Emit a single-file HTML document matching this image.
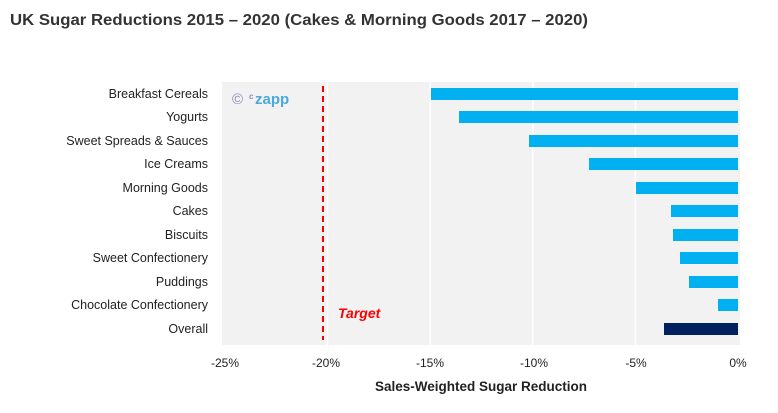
<!DOCTYPE html>
<html><head><meta charset="utf-8"><style>
html,body{margin:0;padding:0;background:#fff;}
svg{display:block;font-family:"Liberation Sans",sans-serif;}
</style></head><body>
<svg width="778" height="413" viewBox="0 0 778 413">
<text x="10" y="25" font-size="16" font-weight="bold" fill="#333" textLength="578" lengthAdjust="spacingAndGlyphs">UK Sugar Reductions 2015 – 2020 (Cakes &amp; Morning Goods 2017 – 2020)</text>
<rect x="222" y="82" width="518" height="263" fill="#f2f2f2"/>
<g stroke="#fff" stroke-width="1.5">
<line x1="327.6" y1="82" x2="327.6" y2="345"/>
<line x1="430.2" y1="82" x2="430.2" y2="345"/>
<line x1="532.8" y1="82" x2="532.8" y2="345"/>
<line x1="635.4" y1="82" x2="635.4" y2="345"/>
</g>
<text x="232" y="104" font-size="15" fill="#8a8ac0">©</text>
<text x="249" y="104" font-size="8" font-weight="bold" fill="#8a8ac0" dy="-5">c</text>
<text x="255" y="104" font-size="15" font-weight="bold" fill="#4aa8e0">zapp</text>
<line x1="323" y1="86" x2="323" y2="340" stroke="#ff0000" stroke-width="2" stroke-dasharray="6,4"/>
<text x="338" y="318" font-size="14" font-weight="bold" font-style="italic" fill="#ff0000">Target</text>
<g fill="#00b0f0">
<rect x="431" y="88" width="307" height="12"/>
<rect x="459" y="111" width="279" height="12"/>
<rect x="529" y="135" width="209" height="12"/>
<rect x="589" y="158" width="149" height="12"/>
<rect x="636" y="182" width="102" height="12"/>
<rect x="671" y="205" width="67" height="12"/>
<rect x="673" y="229" width="65" height="12"/>
<rect x="680" y="252" width="58" height="12"/>
<rect x="689" y="276" width="49" height="12"/>
<rect x="718" y="299" width="20" height="12"/>
</g>
<rect x="664" y="323" width="74" height="12" fill="#002060"/>
<g font-size="12.5" fill="#222" text-anchor="end">
<text x="208" y="98">Breakfast Cereals</text>
<text x="208" y="121">Yogurts</text>
<text x="208" y="145">Sweet Spreads &amp; Sauces</text>
<text x="208" y="168">Ice Creams</text>
<text x="208" y="192">Morning Goods</text>
<text x="208" y="215">Cakes</text>
<text x="208" y="239">Biscuits</text>
<text x="208" y="262">Sweet Confectionery</text>
<text x="208" y="286">Puddings</text>
<text x="208" y="309">Chocolate Confectionery</text>
<text x="208" y="333">Overall</text>
</g>
<g font-size="12" fill="#222" text-anchor="middle">
<text x="225" y="367">-25%</text>
<text x="326" y="367">-20%</text>
<text x="430" y="367">-15%</text>
<text x="534" y="367">-10%</text>
<text x="636" y="367">-5%</text>
<text x="738" y="367">0%</text>
</g>
<text x="481" y="391" font-size="13.5" font-weight="bold" fill="#222" text-anchor="middle">Sales-Weighted Sugar Reduction</text>
</svg>
</body></html>
